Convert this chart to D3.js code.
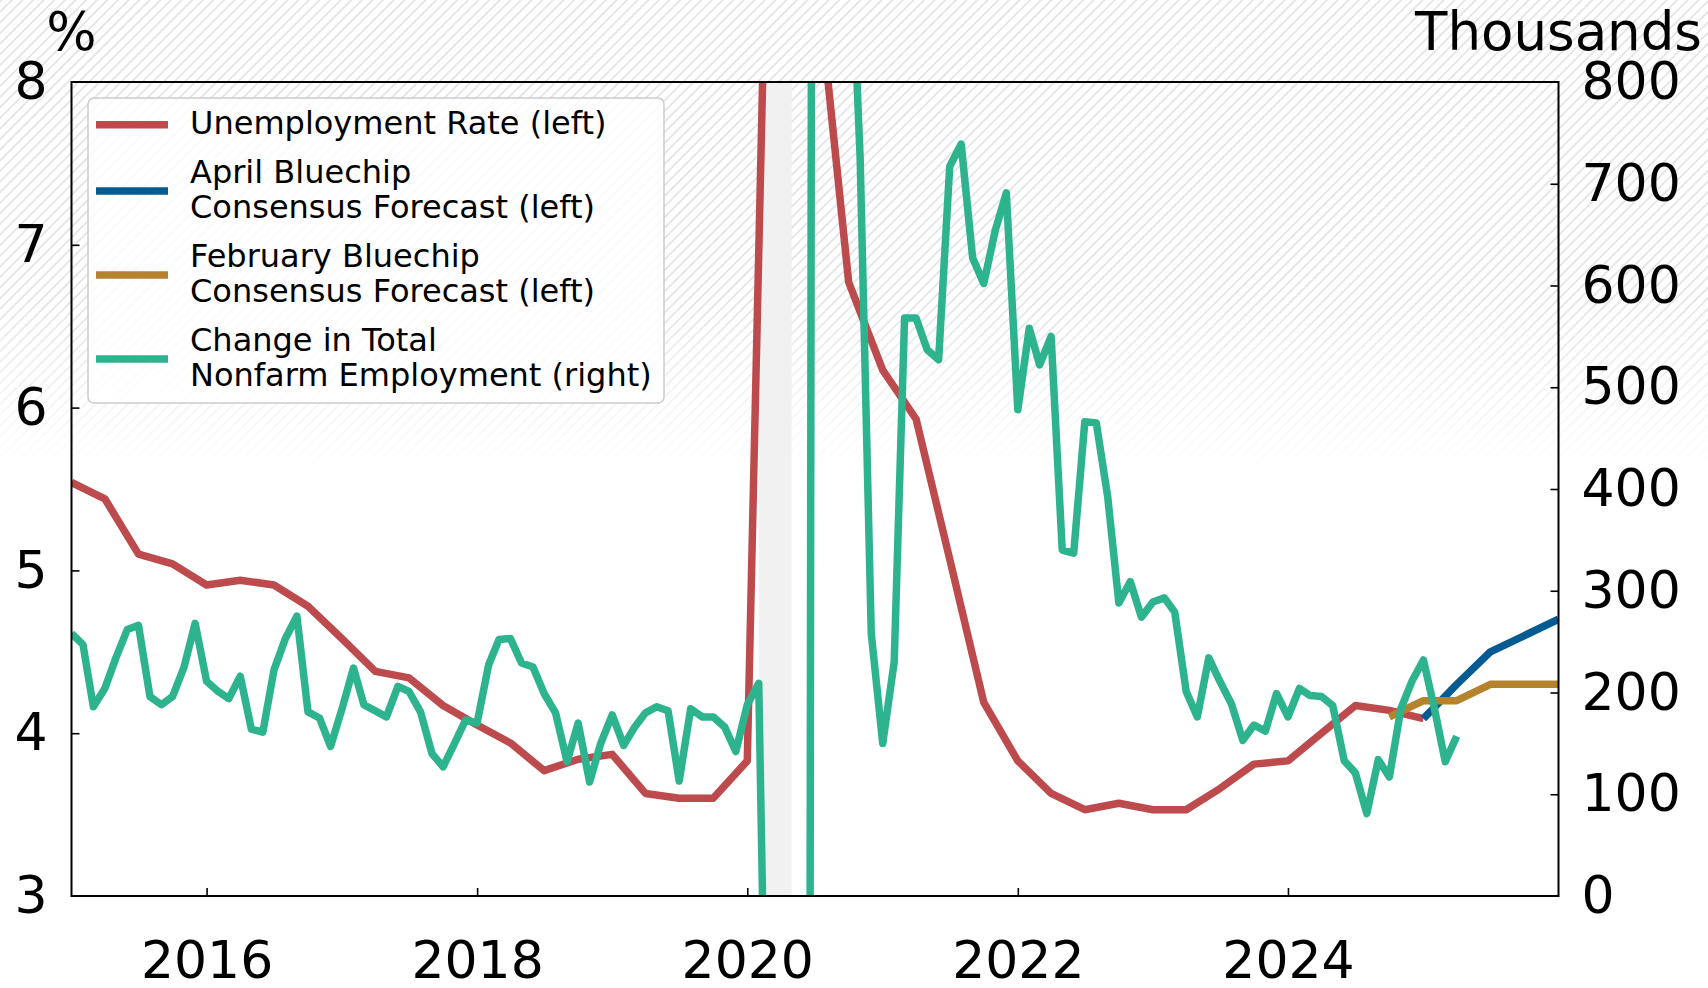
<!DOCTYPE html>
<html>
<head>
<meta charset="utf-8">
<script src="https://cdn.jsdelivr.net/npm/d3@7"></script>
<style>
  html, body { margin: 0; padding: 0; background: #ffffff; }
  svg { display: block; font-family: "DejaVu Sans", "Liberation Sans", sans-serif; }
</style>
</head>
<body>
<svg id="chart" width="1708" height="988"></svg>
<script>
// ---- Unemployment rate, quarterly averages (%), left axis ----
const rateMonths = [
  "2015-01","2015-04","2015-07","2015-10",
  "2016-01","2016-04","2016-07","2016-10",
  "2017-01","2017-04","2017-07","2017-10",
  "2018-01","2018-04","2018-07","2018-10",
  "2019-01","2019-04","2019-07","2019-10",
  "2020-01","2020-04","2020-07","2020-10",
  "2021-01","2021-04","2021-07","2021-10",
  "2022-01","2022-04","2022-07","2022-10",
  "2023-01","2023-04","2023-07","2023-10",
  "2024-01","2024-04","2024-07","2024-10",
  "2025-01"
];
const rateValues = [
  5.54, 5.44, 5.10, 5.04,
  4.91, 4.94, 4.91, 4.78,
  4.58, 4.38, 4.34, 4.17,
  4.05, 3.94, 3.77, 3.84,
  3.87, 3.63, 3.60, 3.60,
  3.83, 13.0, 8.80, 6.77,
  6.23, 5.93, 5.07, 4.19,
  3.83, 3.63, 3.53, 3.57,
  3.53, 3.53, 3.66, 3.81,
  3.83, 4.00, 4.17, 4.14,
  4.09
];

// ---- Blue Chip consensus forecasts (%), left axis ----
const aprilMonths = ["2025-01","2025-04","2025-07","2025-10","2026-01"];
const aprilValues = [4.09, 4.30, 4.50, 4.60, 4.70];
const febMonths = ["2024-10","2025-01","2025-04","2025-07","2025-10","2026-01"];
const febValues = [4.10, 4.20, 4.20, 4.30, 4.30, 4.30];

// ---- Change in total nonfarm employment, thousands, monthly from Jan 2015, right axis ----
const payrollStart = "2015-01";
const payrollValues = [
  258, 247, 186, 204, 234, 262, 266, 196, 188, 196, 225, 268,
  211, 201, 194, 216, 164, 161, 222, 253, 275, 181, 175, 147,
  184, 224, 188, 182, 176, 206, 201, 181, 140, 127, 150, 173,
  170, 227, 252, 253, 229, 225, 199, 180, 132, 170, 112, 150,
  178, 148, 165, 180, 186, 182, 113, 184, 176, 176, 166, 142,
  188, 209, -390, -7200, -6350, -4360, 2980, 2550, 1310, 1000, 725, 258,
  150, 230, 568, 568, 537, 527, 717, 739, 627, 602, 654, 691,
  478, 558, 522, 550, 340, 337, 466, 465, 392, 288, 309, 274,
  289, 293, 279, 201, 176, 234, 211, 189, 153, 168, 162, 199,
  176, 204, 197, 196, 187, 133, 121, 81, 134, 117, 184, 211,
  232, 182, 132, 157
];

// ---- Recession shading ----
const recessionStart = "2020-02-01";
const recessionEnd = "2020-04-30";

// ---- Axis ticks ----
const leftTicks = [3, 4, 5, 6, 7, 8];
const rightTicks = [0, 100, 200, 300, 400, 500, 600, 700, 800];
const yearTicks = ["2016", "2018", "2020", "2022", "2024"];

// ---- Legend entries ----
const legendLabels = [
  ["Unemployment Rate (left)"],
  ["April Bluechip", "Consensus Forecast (left)"],
  ["February Bluechip", "Consensus Forecast (left)"],
  ["Change in Total", "Nonfarm Employment (right)"]
];

const colors = {
  rate: "#bd4a4c",
  april: "#045b92",
  feb: "#b5832d",
  payroll: "#2eb38f"
};

// ================= drawing =================
const W = 1708, H = 988;
const plot = { left: 71.5, right: 1558.5, top: 82, bottom: 896 };

const parseMonth = d3.utcParse("%Y-%m");
const parseDay = d3.utcParse("%Y-%m-%d");
const parseYear = d3.utcParse("%Y");

const x = d3.scaleUtc()
  .domain([parseMonth("2015-01"), parseMonth("2026-01")])
  .range([plot.left, plot.right]);
const yLeft = d3.scaleLinear().domain([3, 8]).range([plot.bottom, plot.top]);
const yRight = d3.scaleLinear().domain([0, 800]).range([plot.bottom, plot.top]);

const svg = d3.select("#chart");
const defs = svg.append("defs");

// diagonal hatch used for the page background
const hatch = defs.append("pattern")
  .attr("id", "hatch")
  .attr("patternUnits", "userSpaceOnUse")
  .attr("width", 7.5).attr("height", 7.5)
  .attr("patternTransform", "rotate(45)");
hatch.append("line")
  .attr("x1", 1).attr("x2", 1).attr("y1", 0).attr("y2", 7.5)
  .attr("stroke", "#dadde1").attr("stroke-width", 1.4);

// hatch fades out towards the lower part of the figure
const fade = defs.append("linearGradient")
  .attr("id", "fadeGrad")
  .attr("gradientUnits", "userSpaceOnUse")
  .attr("x1", 0).attr("y1", 0).attr("x2", 0).attr("y2", H);
fade.append("stop").attr("offset", 0).attr("stop-color", "#fff");
fade.append("stop").attr("offset", 300 / H).attr("stop-color", "#fff");
fade.append("stop").attr("offset", 470 / H).attr("stop-color", "#000");
fade.append("stop").attr("offset", 1).attr("stop-color", "#000");
defs.append("mask")
  .attr("id", "fadeMask")
  .attr("maskUnits", "userSpaceOnUse")
  .attr("x", 0).attr("y", 0).attr("width", W).attr("height", H)
  .append("rect").attr("width", W).attr("height", H).attr("fill", "url(#fadeGrad)");

defs.append("clipPath").attr("id", "plotClip")
  .append("rect")
  .attr("x", plot.left).attr("y", plot.top)
  .attr("width", plot.right - plot.left).attr("height", plot.bottom - plot.top);

svg.append("rect").attr("width", W).attr("height", H).attr("fill", "#ffffff");
svg.append("rect").attr("width", W).attr("height", H)
  .attr("fill", "url(#hatch)").attr("mask", "url(#fadeMask)");

const plotLayer = svg.append("g").attr("clip-path", "url(#plotClip)");

// recession band
plotLayer.append("rect")
  .attr("x", x(parseDay(recessionStart)))
  .attr("y", plot.top)
  .attr("width", x(parseDay(recessionEnd)) - x(parseDay(recessionStart)))
  .attr("height", plot.bottom - plot.top)
  .attr("fill", "#f1f1f1");

const toSeries = (months, values) => months.map((m, i) => ({ date: parseMonth(m), value: values[i] }));

const leftLine = d3.line().x(d => x(d.date)).y(d => yLeft(d.value));
const rightLine = d3.line().x(d => x(d.date)).y(d => yRight(d.value));

function drawLine(data, gen, color) {
  plotLayer.append("path")
    .datum(data)
    .attr("d", gen)
    .attr("fill", "none")
    .attr("stroke", color)
    .attr("stroke-width", 7.5)
    .attr("stroke-linejoin", "round")
    .attr("stroke-linecap", "butt");
}

drawLine(toSeries(rateMonths, rateValues), leftLine, colors.rate);
drawLine(toSeries(aprilMonths, aprilValues), leftLine, colors.april);
drawLine(toSeries(febMonths, febValues), leftLine, colors.feb);

const payrollSeries = payrollValues.map((v, i) => ({
  date: d3.utcMonth.offset(parseMonth(payrollStart), i),
  value: v
}));
drawLine(payrollSeries, rightLine, colors.payroll);

// frame
svg.append("rect")
  .attr("x", plot.left).attr("y", plot.top)
  .attr("width", plot.right - plot.left).attr("height", plot.bottom - plot.top)
  .attr("fill", "none").attr("stroke", "#000").attr("stroke-width", 2);

const tickFont = 52;

const leftAxis = svg.append("g")
  .attr("transform", `translate(${plot.left},0)`)
  .call(d3.axisLeft(yLeft).tickValues(leftTicks).tickFormat(d3.format("d"))
    .tickSizeInner(-8).tickSizeOuter(0).tickPadding(24));
const rightAxis = svg.append("g")
  .attr("transform", `translate(${plot.right},0)`)
  .call(d3.axisRight(yRight).tickValues(rightTicks).tickFormat(d3.format("d"))
    .tickSizeInner(-8).tickSizeOuter(0).tickPadding(23));
const bottomAxis = svg.append("g")
  .attr("transform", `translate(0,${plot.bottom})`)
  .call(d3.axisBottom(x).tickValues(yearTicks.map(parseYear)).tickFormat(d3.utcFormat("%Y"))
    .tickSizeInner(-8).tickSizeOuter(0).tickPadding(45));

[leftAxis, rightAxis, bottomAxis].forEach(g => {
  g.select(".domain").remove();
  g.selectAll(".tick line").attr("stroke", "#000").attr("stroke-width", 1.6);
  g.selectAll(".tick text")
    .attr("fill", "#000")
    .style("font-family", '"DejaVu Sans", sans-serif')
    .style("font-size", tickFont + "px");
});
// hide the tick marks sitting on the frame corners
leftAxis.selectAll(".tick").filter(d => d === 3 || d === 8).select("line").remove();
rightAxis.selectAll(".tick").filter(d => d === 0 || d === 800).select("line").remove();

// axis unit labels
svg.append("text")
  .attr("x", plot.left).attr("y", 50)
  .attr("text-anchor", "middle")
  .style("font-size", "53px")
  .text("%");
svg.append("text")
  .attr("x", plot.right).attr("y", 50)
  .attr("text-anchor", "middle")
  .style("font-size", "53px")
  .text("Thousands");

// legend
const legend = svg.append("g");
const legendBox = { x: 88, y: 98, w: 576, h: 305 };
legend.append("rect")
  .attr("x", legendBox.x).attr("y", legendBox.y)
  .attr("width", legendBox.w).attr("height", legendBox.h)
  .attr("rx", 6).attr("ry", 6)
  .attr("fill", "#ffffff").attr("fill-opacity", 0.8)
  .attr("stroke", "#cccccc").attr("stroke-width", 1.5);

const legendColors = [colors.rate, colors.april, colors.feb, colors.payroll];
const lineGap = 35.5;
const rowGap = 13;
let cursor = legendBox.y + 9;
legendLabels.forEach((lines, i) => {
  const rowH = lines.length * lineGap;
  const cy = cursor + rowH / 2;
  legend.append("line")
    .attr("x1", 96).attr("x2", 168)
    .attr("y1", cy).attr("y2", cy)
    .attr("stroke", legendColors[i]).attr("stroke-width", 7.5);
  lines.forEach((t, j) => {
    legend.append("text")
      .attr("x", 190)
      .attr("y", cursor + j * lineGap + 27)
      .style("font-size", "32px")
      .attr("fill", "#000")
      .text(t);
  });
  cursor += rowH + rowGap;
});
</script>
</body>
</html>
